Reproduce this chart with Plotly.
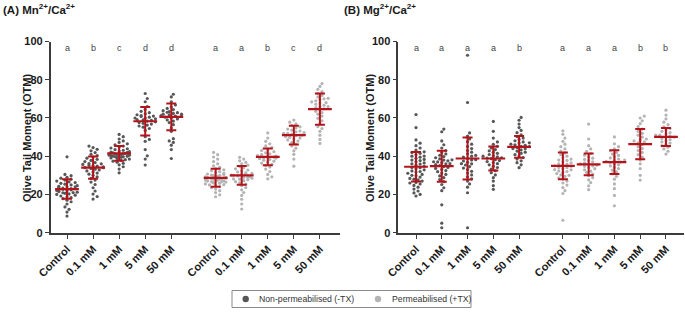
import plotly.graph_objects as go

# ---------------- data ----------------
categories = ["Control", "0.1 mM", "1 mM", "5 mM", "50 mM"]
group_labels = ["Non-permeabilised (-TX)", "Permeabilised (+TX)"]

# Panel A : Mn2+/Ca2+ ; non-permeabilised (-TX)
a_tx_neg = [
    [39.7, 30.5, 29.8, 29.0, 28.5, 28.0, 27.5, 27.0, 26.6, 26.2, 25.8, 25.4, 25.0, 24.6, 24.3, 24.0, 23.6, 23.3, 23.0, 22.7,
     22.4, 22.1, 21.8, 21.5, 21.2, 20.9, 20.6, 20.3, 20.0, 19.6, 19.2, 18.8, 18.3, 17.8, 17.0, 16.2, 15.0, 13.5, 12.2, 10.8, 8.7,
     23.0, 22.0, 24.0, 21.0],
    [45.3, 44.5, 43.6, 42.8, 41.9, 41.0, 40.3, 39.6, 39.0, 38.4, 37.8, 37.2, 36.7, 36.2, 35.7, 35.2, 34.8, 34.4, 34.0, 33.6,
     33.2, 32.8, 32.3, 31.8, 31.2, 30.6, 30.0, 29.2, 28.4, 27.5, 26.5, 25.2, 23.5, 21.8, 20.2, 18.9, 17.6, 35.0, 34.0, 36.0],
    [51.4, 50.2, 49.0, 48.0, 47.2, 46.5, 45.9, 45.3, 44.8, 44.3, 43.9, 43.5, 43.1, 42.7, 42.4, 42.1, 41.8, 41.5, 41.2, 40.9,
     40.6, 40.3, 40.0, 39.7, 39.4, 39.1, 38.8, 38.5, 38.2, 37.8, 37.4, 36.9, 36.3, 35.5, 34.5, 33.3, 31.3, 41.0, 40.5, 40.0,
     39.5, 42.0, 41.3, 40.8, 40.2, 39.8],
    [72.8, 70.2, 68.5, 66.0, 64.5, 63.5, 62.8, 62.2, 61.7, 61.2, 60.8, 60.4, 60.0, 59.6, 59.2, 58.8, 58.4, 58.0, 57.6, 57.2,
     56.8, 56.3, 55.8, 55.2, 54.5, 53.5, 50.2, 48.8, 47.8, 43.5, 40.2, 38.5, 35.4, 60.0, 59.0, 61.0],
    [72.4, 71.0, 68.5, 66.8, 65.8, 65.0, 64.4, 63.8, 63.3, 62.8, 62.4, 62.0, 61.6, 61.2, 60.8, 60.4, 60.0, 59.5, 59.0, 58.4,
     57.6, 56.5, 54.8, 53.0, 49.2, 48.0, 47.2, 45.8, 43.5, 38.8, 62.0, 61.0, 63.0],
]
# Panel A : permeabilised (+TX)
a_tx_pos = [
    [42.0, 40.8, 39.6, 38.5, 37.2, 36.0, 35.0, 34.2, 33.5, 32.9, 32.4, 31.9, 31.5, 31.1, 30.7, 30.4, 30.1, 29.8, 29.5, 29.2,
     28.9, 28.6, 28.3, 28.0, 27.7, 27.4, 27.1, 26.8, 26.5, 26.2, 25.9, 25.5, 25.1, 24.6, 24.1, 23.5, 22.8, 22.0, 21.0, 19.8,
     18.8, 29.0, 28.5, 28.0, 27.5, 27.0, 30.0, 29.5, 26.0, 25.0, 28.2, 27.8, 27.2, 26.6],
    [39.4, 38.5, 37.6, 36.8, 36.0, 35.3, 34.6, 34.0, 33.4, 32.8, 32.3, 31.8, 31.3, 30.9, 30.5, 30.1, 29.7, 29.3, 28.9, 28.5,
     28.1, 27.7, 27.2, 26.7, 26.1, 25.4, 24.6, 23.6, 22.4, 21.0, 19.5, 17.5, 15.0, 12.4, 31.0, 30.0, 29.0, 28.0],
    [52.2, 49.5, 47.8, 46.5, 45.4, 44.5, 43.7, 43.0, 42.4, 41.8, 41.3, 40.8, 40.3, 39.9, 39.5, 39.1, 38.7, 38.3, 37.9, 37.4,
     36.9, 36.4, 35.8, 35.1, 34.3, 33.3, 32.0, 30.5, 29.2, 28.2, 40.0, 39.0],
    [58.9, 57.8, 56.9, 56.1, 55.4, 54.8, 54.2, 53.7, 53.2, 52.7, 52.3, 51.9, 51.5, 51.1, 50.7, 50.3, 49.9, 49.5, 49.0, 48.5,
     47.9, 47.2, 46.4, 45.4, 44.2, 42.8, 41.0, 38.5, 34.8, 51.0, 52.0],
    [78.0, 76.5, 75.0, 73.8, 72.8, 71.8, 71.0, 70.3, 69.6, 69.0, 68.4, 67.8, 67.2, 66.6, 66.0, 65.4, 64.8, 64.2, 63.5, 62.8,
     62.0, 61.0, 59.8, 58.5, 57.0, 55.5, 54.5, 53.0, 51.0, 48.8, 46.7, 70.0, 68.0, 66.0],
]
# Panel B : Mg2+/Ca2+ ; non-permeabilised (-TX)
b_tx_neg = [
    [61.8, 55.0, 48.5, 46.8, 45.5, 44.3, 43.2, 42.3, 41.5, 40.8, 40.1, 39.5, 38.9, 38.3, 37.7, 37.1, 36.5, 35.9, 35.3, 34.7,
     34.1, 33.5, 32.9, 32.3, 31.7, 31.1, 30.5, 29.8, 29.1, 28.4, 27.7, 27.0, 26.3, 25.5, 24.7, 23.8, 22.8, 21.8, 20.8, 20.0,
     19.2, 36.0, 34.0, 32.0, 30.0, 28.0, 38.0, 40.0, 42.0, 26.0],
    [54.2, 52.8, 48.0, 46.0, 44.3, 43.0, 42.0, 41.2, 40.5, 39.8, 39.2, 38.6, 38.1, 37.6, 37.1, 36.6, 36.1, 35.6, 35.1, 34.6,
     34.1, 33.6, 33.1, 32.5, 31.9, 31.2, 30.5, 29.7, 28.8, 27.8, 26.7, 25.2, 23.5, 22.0, 14.6, 5.0, 2.6, 38.0, 37.0, 36.0],
    [92.8, 68.1, 52.2, 50.5, 49.0, 47.6, 46.3, 45.1, 44.0, 43.0, 42.1, 41.2, 40.4, 39.6, 38.9, 38.2, 37.5, 36.8, 36.1, 35.4,
     34.6, 33.8, 33.0, 32.1, 31.2, 30.2, 29.2, 28.2, 27.0, 25.5, 23.8, 20.9, 2.6, 40.0, 38.0, 36.0],
    [58.2, 53.0, 49.5, 47.5, 46.2, 45.2, 44.3, 43.5, 42.8, 42.1, 41.5, 40.9, 40.3, 39.7, 39.2, 38.7, 38.2, 37.7, 37.2, 36.7,
     36.1, 35.5, 34.8, 34.1, 33.3, 32.4, 31.4, 30.2, 28.8, 27.0, 24.6, 22.7, 39.0, 40.0],
    [60.3, 58.8, 56.8, 55.0, 53.5, 52.3, 51.2, 50.3, 49.5, 48.8, 48.1, 47.5, 46.9, 46.3, 45.7, 45.1, 44.5, 43.9, 43.3, 42.7,
     42.1, 41.5, 40.8, 40.1, 39.3, 38.5, 37.6, 36.6, 35.5, 34.0, 45.0, 44.0, 46.0, 47.0],
]
# Panel B : permeabilised (+TX)
b_tx_pos = [
    [53.3, 51.5, 49.5, 47.8, 46.3, 45.0, 43.8, 42.7, 41.7, 40.8, 40.0, 39.2, 38.5, 37.8, 37.1, 36.5, 35.9, 35.3, 34.7, 34.1,
     33.5, 32.9, 32.3, 31.6, 30.9, 30.2, 29.5, 28.7, 27.9, 27.0, 26.0, 24.9, 23.6, 22.0, 20.5, 6.5, 36.0, 34.0, 32.0, 30.0,
     38.0, 35.0, 33.0],
    [56.8, 49.0, 45.5, 43.8, 42.5, 41.4, 40.5, 39.7, 39.0, 38.3, 37.7, 37.1, 36.5, 35.9, 35.3, 34.7, 34.1, 33.5, 32.9, 32.2,
     31.5, 30.7, 29.8, 28.8, 27.6, 26.2, 24.5, 22.5, 36.0, 35.0],
    [50.1, 46.5, 45.0, 43.8, 42.8, 41.9, 41.1, 40.4, 39.7, 39.1, 38.5, 37.9, 37.3, 36.7, 36.1, 35.5, 34.9, 34.2, 33.5, 32.7,
     31.8, 30.8, 29.5, 28.0, 25.5, 23.0, 19.5, 14.1, 37.0, 38.0],
    [61.0, 60.0, 58.5, 57.0, 55.5, 54.2, 53.0, 52.0, 51.0, 50.0, 49.0, 48.0, 47.0, 46.0, 45.0, 44.0, 43.0, 42.0, 40.8, 39.5,
     38.0, 36.0, 33.5, 30.0, 27.5, 48.5, 47.5],
    [64.1, 61.5, 59.5, 57.8, 56.5, 55.4, 54.5, 53.7, 53.0, 52.3, 51.7, 51.1, 50.5, 49.9, 49.3, 48.7, 48.1, 47.5, 46.9, 46.2,
     45.5, 44.7, 43.8, 42.6, 41.1, 50.0, 51.0],
]

# mean and SD
a_mean = [22.8, 34.0, 41.5, 58.3, 60.6, 28.7, 30.0, 39.7, 51.0, 64.6]
a_sd = [5.1, 5.8, 3.9, 7.4, 7.0, 4.7, 4.9, 4.4, 4.9, 8.2]
b_mean = [34.5, 34.8, 38.8, 38.8, 44.9, 35.0, 35.7, 36.9, 46.3, 50.1]
b_sd = [7.7, 8.1, 11.0, 6.3, 5.7, 7.0, 5.7, 6.2, 7.9, 4.7]

a_letters = ["a", "b", "c", "d", "d", "a", "a", "b", "c", "d"]
b_letters = ["a", "a", "a", "a", "b", "a", "a", "a", "b", "b"]

y_ticks = [0, 20, 40, 60, 80, 100]

# ---------------- style ----------------
positions = [0, 1, 2, 3, 4, 5.7, 6.7, 7.7, 8.7, 9.7]
ticktext = categories * 2
dark = "#575757"
light = "#b4b4b4"
red = "#b3141c"
axcol = "#3c3c3c"
W, H = 685, 319
FONT = "Arial, Liberation Sans, sans-serif"

ydom = [1 - 232.7 / H, 1 - 41.5 / H]
ypx = (232.7 - 41.5) / 100.0
panels = [
    dict(dom=[50.7 / W, 340 / W], rng=[-0.625, 10.47], ax="x", ay="y"),
    dict(dom=[398.3 / W, 684 / W], rng=[-0.687, 10.4], ax="x2", ay="y2"),
]


def swarm(vals, xppu, d=3.3, maxw=10.5):
    """Beeswarm offsets (category units) computed in pixel space."""
    order = sorted(range(len(vals)), key=lambda i: vals[i])
    placed = []
    offs = [0.0] * len(vals)
    step = d * 0.62
    cands = [0.0]
    k = 1
    while k * step <= maxw:
        cands += [k * step, -k * step]
        k += 1
    for i in order:
        py = vals[i] * ypx
        best = None
        for c in cands:
            ok = True
            for (px, qy) in placed:
                if (px - c) ** 2 + (qy - py) ** 2 < d * d:
                    ok = False
                    break
            if ok:
                best = c
                break
        if best is None:
            best = cands[len(placed) % len(cands)]
        placed.append((best, py))
        offs[i] = best / xppu
    return offs


fig = go.Figure()

for p, neg, pos, means, sds in [
    (panels[0], a_tx_neg, a_tx_pos, a_mean, a_sd),
    (panels[1], b_tx_neg, b_tx_pos, b_mean, b_sd),
]:
    xppu = (p["dom"][1] - p["dom"][0]) * W / (p["rng"][1] - p["rng"][0])
    groups = neg + pos
    for gi, vals in enumerate(groups):
        offs = swarm(vals, xppu)
        fig.add_trace(go.Scatter(
            x=[positions[gi] + o for o in offs], y=vals, mode="markers",
            xaxis=p["ax"], yaxis=p["ay"], showlegend=False, hoverinfo="skip",
            marker=dict(size=3.2, color=dark if gi < 5 else light, line=dict(width=0)),
        ))
    fig.add_trace(go.Scatter(
        x=positions, y=means, mode="markers", xaxis=p["ax"], yaxis=p["ay"],
        showlegend=False, hoverinfo="skip",
        marker=dict(symbol="line-ew-open", size=17, line=dict(width=2.2, color=red), color=red),
        error_y=dict(type="data", array=sds, visible=True, color=red, thickness=2, width=5),
    ))

axis_common = dict(showgrid=False, zeroline=False, showline=True, linecolor=axcol, linewidth=1.6,
                   ticks="outside", ticklen=4, tickwidth=1.4, tickcolor=axcol, automargin=False,
                   tickfont=dict(family=FONT, size=11, color="#1a1a1a", weight="bold"))

fig.update_layout(
    width=W, height=319, margin=dict(l=0, r=0, t=0, b=0, autoexpand=False),
    plot_bgcolor="white", paper_bgcolor="white",
    xaxis=dict(domain=panels[0]["dom"], range=panels[0]["rng"], anchor="y",
               tickvals=positions, ticktext=ticktext, tickangle=-45, **axis_common),
    yaxis=dict(domain=ydom, range=[0, 100], anchor="x", tickvals=y_ticks, **axis_common),
    xaxis2=dict(domain=panels[1]["dom"], range=panels[1]["rng"], anchor="y2",
                tickvals=positions, ticktext=ticktext, tickangle=-45, **axis_common),
    yaxis2=dict(domain=ydom, range=[0, 100], anchor="x2", tickvals=y_ticks, **axis_common),
    showlegend=False,
)

anns = []
shapes = []
for letters, xr, yr in [(a_letters, "x", "y"), (b_letters, "x2", "y2")]:
    for xv, t in zip(positions, letters):
        anns.append(dict(x=xv, y=96.8, xref=xr, yref=yr, text=t, showarrow=False,
                         font=dict(family=FONT, size=9, color="#444")))
for xpx, t in [(1, "(A) Mn<sup>2+</sup>/Ca<sup>2+</sup>"), (342, "(B) Mg<sup>2+</sup>/Ca<sup>2+</sup>")]:
    anns.append(dict(x=xpx / W, y=1 - 9 / H, xref="paper", yref="paper", xanchor="left", yanchor="middle",
                     text=t, showarrow=False, font=dict(family=FONT, size=11.5, color="#1a1a1a", weight="bold")))
for xpx in [19, 370]:
    anns.append(dict(x=xpx / W, y=1 - 138 / H, xref="paper", yref="paper", textangle=-90,
                     text="Olive Tail Moment (OTM)", showarrow=False,
                     font=dict(family=FONT, size=11, color="#1a1a1a", weight="bold")))

# legend box (drawn in paper space)
shapes.append(dict(type="rect", xref="paper", yref="paper", x0=232 / W, x1=471 / W,
                   y0=1 - 307.5 / H, y1=1 - 290.5 / H, line=dict(color="#8a8a8a", width=1),
                   fillcolor="white"))
for mx, tx, lab, col in [(245.7, 257, group_labels[0], dark), (378, 390, group_labels[1], light)]:
    shapes.append(dict(type="circle", xref="paper", yref="paper", x0=(mx - 3.2) / W, x1=(mx + 3.2) / W,
                       y0=1 - (299 + 3.2) / H, y1=1 - (299 - 3.2) / H, line=dict(width=0), fillcolor=col))
    anns.append(dict(x=tx / W, y=1 - 299 / H, xref="paper", yref="paper", xanchor="left", yanchor="middle",
                     text=lab, showarrow=False, font=dict(family=FONT, size=8.7, color="#333")))

fig.update_layout(annotations=anns, shapes=shapes)

fig.write_html("out.html", config={"displayModeBar": False},
               post_script="document.body.style.margin='0';document.body.style.padding='0';")
